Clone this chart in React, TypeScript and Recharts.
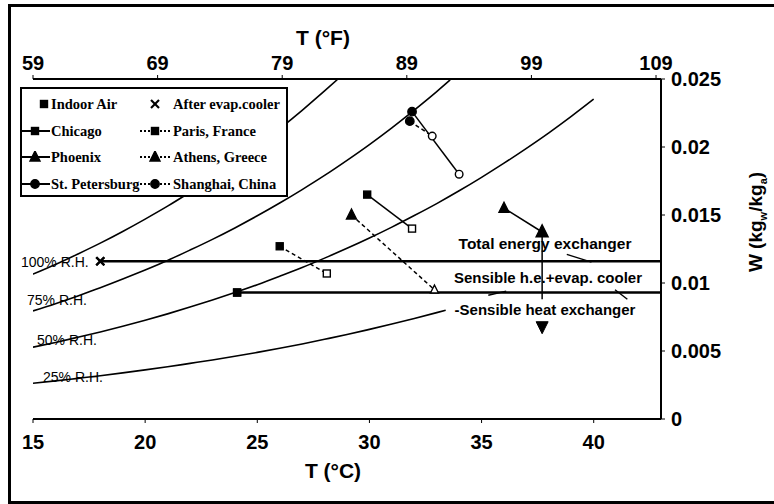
import { ComposedChart, Line, XAxis, YAxis } from "recharts"

// tick values
const ticksC = [15, 20, 25, 30, 35, 40]
const ticksF = [59, 69, 79, 89, 99, 109]
const ticksW = [0, 0.005, 0.01, 0.015, 0.02, 0.025]

// relative humidity curves, [T (°C), W (kg/kg)]
const rh100 = [[15, 0.01065], [16, 0.01136], [17, 0.01213], [18, 0.01293], [19, 0.01379], [20, 0.0147], [21, 0.01565], [22, 0.01667], [23, 0.01774], [24, 0.01888], [25, 0.02008], [26, 0.02135], [27, 0.0227], [28, 0.02412], [28.6, 0.025]]
const rh75 = [[15, 0.00795], [16, 0.00848], [17, 0.00905], [18, 0.00965], [19, 0.01029], [20, 0.01096], [21, 0.01166], [22, 0.01242], [23, 0.01321], [24, 0.01405], [25, 0.01494], [26, 0.01588], [27, 0.01687], [28, 0.01791], [29, 0.01902], [30, 0.02018], [31, 0.02141], [32, 0.02271], [33, 0.02407], [33.6, 0.02493]]
const rh50 = [[15, 0.00528], [16, 0.00563], [17, 0.00601], [18, 0.0064], [19, 0.00682], [20, 0.00726], [21, 0.00773], [22, 0.00823], [23, 0.00875], [24, 0.0093], [25, 0.00988], [26, 0.0105], [27, 0.01114], [28, 0.01183], [29, 0.01255], [30, 0.01331], [31, 0.01411], [32, 0.01496], [33, 0.01584], [34, 0.01678], [35, 0.01777], [36, 0.01881], [37, 0.0199], [38, 0.02104], [39, 0.02225], [40, 0.02352]]
const rh25 = [[15, 0.00263], [16, 0.0028], [17, 0.00299], [18, 0.00318], [19, 0.00339], [20, 0.00361], [21, 0.00384], [22, 0.00409], [23, 0.00434], [24, 0.00461], [25, 0.0049], [26, 0.0052], [27, 0.00552], [28, 0.00586], [29, 0.00621], [30, 0.00659], [31, 0.00698], [32, 0.00739], [33, 0.00782], [33.4, 0.008]]

// indoor air and state after the evaporative cooler
const indoorAir = [24.1, 0.0093]
const afterEvap = [18, 0.0116]
const sensibleOnly = [37.7, 0.0068]

// exchanger lines
const totalLine = [[18, 0.0116], [43, 0.0116]]
const sensibleLine = [[24.1, 0.0093], [43, 0.0093]]
const phoenixDrop = [[37.7, 0.0137], [37.7, 0.0088]]
const leaders = [
  [[38.8, 0.0121], [39.9, 0.01154]],
  [[35.3, 0.0091], [36.1, 0.0094]],
  [[40.95, 0.0095], [41.5, 0.0088]],
]

// cities: outdoor state -> supply state
const cityNames = ["Chicago", "Paris, France", "Phoenix", "Athens, Greece", "St. Petersburg", "Shanghai, China"]
const cityOutdoor = [[29.9, 0.0165], [26.0, 0.0127], [36.0, 0.0155], [29.2, 0.015], [31.9, 0.0226], [31.8, 0.0219]]
const citySupply = [[31.9, 0.014], [28.1, 0.0107], [37.7, 0.01375], [32.9, 0.0095], [34.0, 0.018], [32.8, 0.0208]]

type Mk = "square" | "triangle" | "circle" | "down" | "cross"
const cityStyle: { mark: Mk; dashed: boolean; endFilled?: boolean }[] = [
  { mark: "square", dashed: false },
  { mark: "square", dashed: true },
  { mark: "triangle", dashed: false, endFilled: true },
  { mark: "triangle", dashed: true },
  { mark: "circle", dashed: false },
  { mark: "circle", dashed: true },
]

const pts = (arr: number[][]) => arr.map(([t, w]) => ({ t, w }))

const FONT = "'Liberation Sans', Arial, sans-serif"
const SERIF = "Liberation Serif"

function Marker({ cx, cy, kind, filled, big }: { cx: number; cy: number; kind: Mk; filled: boolean; big?: boolean }) {
  const fill = filled ? "#000" : "#fff"
  const sw = 1.4
  if (kind === "square") {
    const s = 7
    return <rect x={cx - s / 2} y={cy - s / 2} width={s} height={s} fill={fill} stroke="#000" strokeWidth={sw} />
  }
  if (kind === "triangle") {
    const s = big ? 12 : filled ? 10 : 8
    return <polygon points={`${cx},${cy - s * 0.6} ${cx - s / 2},${cy + s * 0.4} ${cx + s / 2},${cy + s * 0.4}`} fill={fill} stroke="#000" strokeWidth={sw} />
  }
  if (kind === "down") {
    const s = 12
    return <polygon points={`${cx},${cy + s * 0.6} ${cx - s / 2},${cy - s * 0.4} ${cx + s / 2},${cy - s * 0.4}`} fill="#000" stroke="#000" />
  }
  if (kind === "cross") {
    const s = 4
    return (
      <g stroke="#000" strokeWidth={2.2}>
        <line x1={cx - s} y1={cy - s} x2={cx + s} y2={cy + s} />
        <line x1={cx - s} y1={cy + s} x2={cx + s} y2={cy - s} />
      </g>
    )
  }
  return <circle cx={cx} cy={cy} r={filled ? 4.2 : 3.8} fill={fill} stroke="#000" strokeWidth={sw} />
}

function LegendSym({ kind, line, dashed }: { kind: Mk; line: boolean; dashed?: boolean }) {
  return (
    <svg width={30} height={12} style={{ display: "block" }}>
      {line && <line x1={0} y1={6} x2={30} y2={6} stroke="#000" strokeWidth={2} strokeDasharray={dashed ? "2 2" : undefined} />}
      <Marker cx={15} cy={6} kind={kind} filled big={false} />
    </svg>
  )
}

const legendRows: [Mk, string, string][] = [
  ["square", cityNames[0], cityNames[1]],
  ["triangle", cityNames[2], cityNames[3]],
  ["circle", cityNames[4], cityNames[5]],
]

function LegendBox() {
  const rowH = 26.7
  const text = { position: "absolute" as const, fontFamily: SERIF, fontWeight: 700, fontSize: 14.5, lineHeight: "16px", whiteSpace: "nowrap" as const }
  return (
    <div style={{ position: "absolute", left: 20, top: 87, width: 264, height: 106, border: "2px solid #000", background: "#fff" }}>
      <div style={{ position: "absolute", left: 7, top: 9 }}><LegendSym kind="square" line={false} /></div>
      <div style={{ ...text, left: 29, top: 7 }}>Indoor Air</div>
      <div style={{ position: "absolute", left: 118, top: 9 }}><LegendSym kind="cross" line={false} /></div>
      <div style={{ ...text, left: 151, top: 7 }}>After evap.cooler</div>
      {legendRows.map(([k, a, b], i) => (
        <div key={a}>
          <div style={{ position: "absolute", left: -2, top: 9 + (i + 1) * rowH }}><LegendSym kind={k} line /></div>
          <div style={{ ...text, left: 29, top: 7 + (i + 1) * rowH }}>{a}</div>
          <div style={{ position: "absolute", left: 118, top: 9 + (i + 1) * rowH }}><LegendSym kind={k} line dashed /></div>
          <div style={{ ...text, left: 151, top: 7 + (i + 1) * rowH }}>{b}</div>
        </div>
      ))}
    </div>
  )
}

function Txt({ x, y, children, size = 14, bold = false, anchor = "left" }: any) {
  return (
    <div
      style={{
        position: "absolute",
        left: x,
        top: y,
        transform: anchor === "center" ? "translate(-50%, -50%)" : "translate(0, -50%)",
        fontFamily: FONT,
        fontSize: size,
        fontWeight: bold ? 700 : 400,
        whiteSpace: "nowrap",
        lineHeight: 1,
      }}
    >
      {children}
    </div>
  )
}

export default function App() {
  const tickStyle = { fontSize: 20, fontWeight: 700, fill: "#000", fontFamily: FONT }
  const axisLine = { stroke: "#000", strokeWidth: 2 }
  return (
    <div style={{ position: "relative", width: 774, height: 504, background: "#fff" }}>
      <style>{`body{margin:0}`}</style>
      <div style={{ position: "absolute", left: 8, top: 4, width: 766, height: 494, borderLeft: "3px solid #000", borderTop: "3px solid #000", borderBottom: "3px solid #000" }} />
      <ComposedChart width={774} height={504} margin={{ top: 49, right: 53, bottom: 55, left: 33 }} style={{ position: "absolute", left: 0, top: 0 }}>
        <XAxis xAxisId="c" type="number" dataKey="t" domain={[15, 43]} ticks={ticksC} allowDataOverflow height={30} tick={tickStyle} axisLine={axisLine} tickLine={{ stroke: "#000" }} tickSize={4} tickMargin={12} />
        <XAxis xAxisId="f" orientation="top" type="number" dataKey="t" domain={[59, 109.4]} ticks={ticksF} allowDataOverflow height={30} tick={tickStyle} axisLine={axisLine} tickLine={{ stroke: "#000" }} tickSize={4} tickMargin={5} />
        <YAxis yAxisId="w" orientation="right" type="number" domain={[0, 0.025]} ticks={ticksW} allowDataOverflow width={60} tick={{ ...tickStyle, textAnchor: "start" }} axisLine={axisLine} tickLine={{ stroke: "#000" }} tickSize={4} tickMargin={6} />

        {/* carrier for the °F axis, draws nothing */}
        <Line xAxisId="f" yAxisId="w" data={ticksF.map((t) => ({ t, w: null }))} dataKey="w" stroke="none" dot={false} isAnimationActive={false} />

        {[rh100, rh75, rh50, rh25].map((c, i) => (
          <Line key={`rh${i}`} xAxisId="c" yAxisId="w" data={pts(c)} dataKey="w" type="monotone" stroke="#000" strokeWidth={1.6} dot={false} isAnimationActive={false} />
        ))}

        <Line xAxisId="c" yAxisId="w" data={pts(totalLine)} dataKey="w" stroke="#000" strokeWidth={2.6} isAnimationActive={false}
          dot={(p: any) => (p.index === 0 ? <Marker key={`te${p.index}`} cx={p.cx} cy={p.cy} kind="cross" filled /> : <g key={`te${p.index}`} />)} />
        <Line xAxisId="c" yAxisId="w" data={pts(sensibleLine)} dataKey="w" stroke="#000" strokeWidth={2.6} isAnimationActive={false}
          dot={(p: any) => (p.index === 0 ? <Marker key={`se${p.index}`} cx={p.cx} cy={p.cy} kind="square" filled /> : <g key={`se${p.index}`} />)} />
        <Line xAxisId="c" yAxisId="w" data={pts(phoenixDrop)} dataKey="w" stroke="#000" strokeWidth={1.5} dot={false} isAnimationActive={false} />
        {leaders.map((l, i) => (
          <Line key={`ld${i}`} xAxisId="c" yAxisId="w" data={pts(l)} dataKey="w" stroke="#000" strokeWidth={1.4} dot={false} isAnimationActive={false} />
        ))}
        <Line xAxisId="c" yAxisId="w" data={pts([indoorAir])} dataKey="w" stroke="none" isAnimationActive={false}
          dot={(p: any) => <Marker key="ia" cx={p.cx} cy={p.cy} kind="square" filled />} />
        <Line xAxisId="c" yAxisId="w" data={pts([afterEvap])} dataKey="w" stroke="none" isAnimationActive={false}
          dot={(p: any) => <Marker key="ae" cx={p.cx} cy={p.cy} kind="cross" filled />} />
        <Line xAxisId="c" yAxisId="w" data={pts([sensibleOnly])} dataKey="w" stroke="none" isAnimationActive={false}
          dot={(p: any) => <Marker key="so" cx={p.cx} cy={p.cy} kind="down" filled />} />

        {cityNames.map((name, i) => {
          const st = cityStyle[i]
          return (
            <Line
              key={name}
              name={name}
              xAxisId="c"
              yAxisId="w"
              data={pts([cityOutdoor[i], citySupply[i]])}
              dataKey="w"
              stroke="#000"
              strokeWidth={1.5}
              strokeDasharray={st.dashed ? "4 3" : undefined}
              isAnimationActive={false}
              dot={(p: any) => (
                <Marker key={`${name}${p.index}`} cx={p.cx} cy={p.cy} kind={st.mark} filled={p.index === 0 || !!st.endFilled} big={p.index === 1 && st.endFilled} />
              )}
            />
          )
        })}
      </ComposedChart>

      <LegendBox />

      <Txt x={323} y={37} size={21} bold anchor="center">T (°F)</Txt>
      <Txt x={333} y={470} size={21} bold anchor="center">T (°C)</Txt>
      <div style={{ position: "absolute", left: 757, top: 222, transform: "translate(-50%, -50%) rotate(-90deg)", fontFamily: FONT, fontSize: 19, fontWeight: 700, whiteSpace: "nowrap" }}>
        W (kg<sub style={{ fontSize: 11 }}>w</sub>/kg<sub style={{ fontSize: 11 }}>a</sub>)
      </div>

      <Txt x={21} y={262} size={14}>100% R.H.</Txt>
      <Txt x={27} y={300} size={14}>75% R.H.</Txt>
      <Txt x={37} y={340} size={14}>50% R.H.</Txt>
      <Txt x={43} y={377} size={14}>25% R.H.</Txt>

      <Txt x={545} y={244} size={15.5} bold anchor="center">Total energy exchanger</Txt>
      <Txt x={548} y={277} size={15} bold anchor="center">Sensible h.e.+evap. cooler</Txt>
      <Txt x={545} y={309} size={15} bold anchor="center">-Sensible heat exchanger</Txt>
    </div>
  )
}
